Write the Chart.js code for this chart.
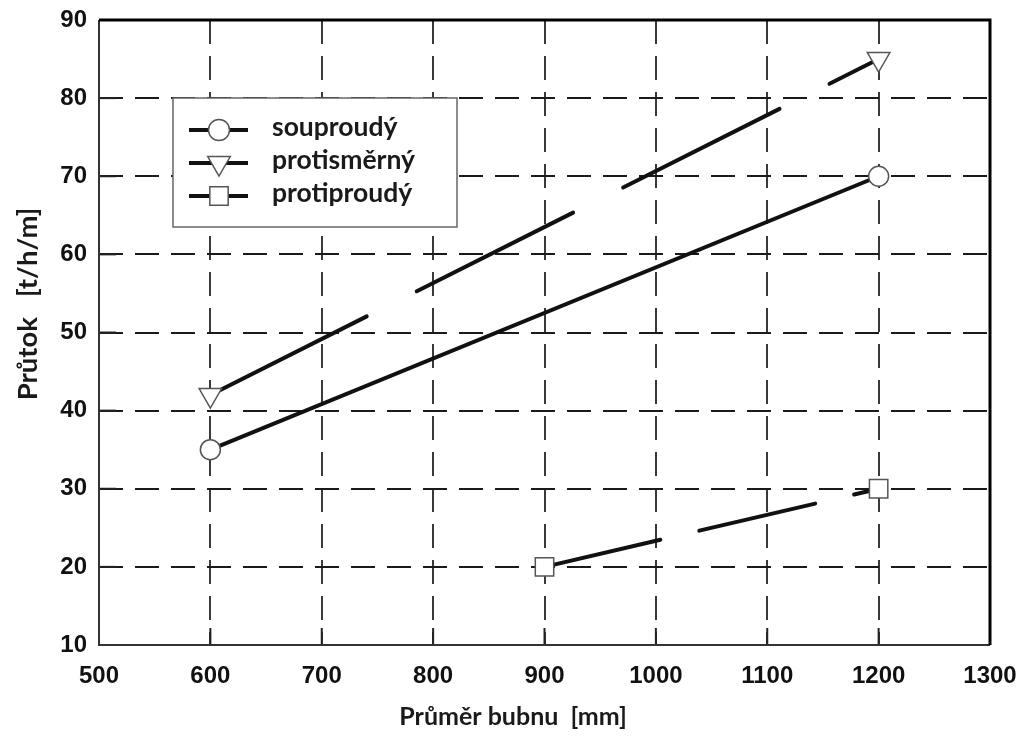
<!DOCTYPE html>
<html lang="cs">
<head>
    <meta charset="UTF-8">
    <title>Průtok vs. průměr bubnu</title>
    <script src="https://cdn.jsdelivr.net/npm/chart.js@4.4.0/dist/chart.umd.min.js"></script>
    <style>
        body { margin: 0; background: #fff; }
        #wrap { width: 1023px; height: 742px; }
    </style>
</head>
<body>
    <div id="wrap"><canvas id="chart" width="1023" height="742"></canvas></div>
    <script>
        // data
        const xTicks = [500, 600, 700, 800, 900, 1000, 1100, 1200, 1300];
        const yTicks = [10, 20, 30, 40, 50, 60, 70, 80, 90];
        const seriesNames = ['souproudý', 'protisměrný', 'protiproudý'];
        const souproudyX = [600, 1200];
        const souproudyY = [35, 70];
        const protismernyX = [600, 1200];
        const protismernyY = [42, 85];
        const protiproudyX = [900, 1200];
        const protiproudyY = [20, 30];

        const xTitle = 'Průměr bubnu  [mm]';
        const yTitle = 'Průtok   [t/h/m]';

        const toPoints = (xs, ys) => xs.map((x, i) => ({ x: x, y: ys[i] }));

        const markerBase = {
            pointBackgroundColor: '#fff',
            pointBorderColor: '#555',
            pointBorderWidth: 1.5,
            borderColor: '#111',
            borderWidth: 4,
            borderCapStyle: 'round',
            tension: 0
        };

        const datasets = [
            Object.assign({}, markerBase, {
                label: seriesNames[0],
                data: toPoints(souproudyX, souproudyY),
                pointStyle: 'circle',
                pointRadius: 10
            }),
            Object.assign({}, markerBase, {
                label: seriesNames[1],
                data: toPoints(protismernyX, protismernyY),
                pointStyle: 'triangle',
                pointRotation: 180,
                pointRadius: 13,
                borderDash: [175, 56]
            }),
            Object.assign({}, markerBase, {
                label: seriesNames[2],
                data: toPoints(protiproudyX, protiproudyY),
                pointStyle: 'rect',
                pointRadius: 13,
                borderDash: [119, 40]
            })
        ];

        const tickFont = { family: '"Liberation Sans", Arial, sans-serif', size: 24, weight: 'bold' };
        const titleFont = 'bold 25px Lato, "Open Sans", sans-serif';
        const yTitleFont = 'bold 27.5px Lato, "Open Sans", sans-serif';
        const legendFont = 'bold 26.5px Lato, "Open Sans", sans-serif';

        // frame, inward ticks, legend and axis titles
        const decor = {
            id: 'decor',
            afterDraw(chart) {
                const ctx = chart.ctx;
                const a = chart.chartArea;
                const xs = chart.scales.x, ys = chart.scales.y;
                ctx.save();
                ctx.strokeStyle = '#222';
                ctx.lineWidth = 2;
                yTicks.forEach(v => {
                    const p = ys.getPixelForValue(v);
                    ctx.beginPath(); ctx.moveTo(a.left, p); ctx.lineTo(a.left + 17, p); ctx.stroke();
                });
                xTicks.forEach(v => {
                    const p = xs.getPixelForValue(v);
                    ctx.beginPath(); ctx.moveTo(p, a.bottom); ctx.lineTo(p, a.bottom - 17); ctx.stroke();
                });
                // frame
                ctx.strokeStyle = '#333';
                ctx.lineWidth = 2;
                ctx.beginPath(); ctx.moveTo(a.left, a.top); ctx.lineTo(a.left, a.bottom); ctx.lineTo(a.right, a.bottom); ctx.stroke();
                ctx.strokeStyle = '#000';
                ctx.lineWidth = 3;
                ctx.beginPath(); ctx.moveTo(a.left, a.top); ctx.lineTo(a.right, a.top); ctx.lineTo(a.right, a.bottom); ctx.stroke();

                // legend box
                const bx = a.left + 74, by = a.top + 78, bw = 284, bh = 129;
                ctx.fillStyle = '#fff';
                ctx.fillRect(bx, by, bw, bh);
                ctx.strokeStyle = '#666';
                ctx.lineWidth = 1.5;
                ctx.strokeRect(bx, by, bw, bh);
                const rowY = [by + 32, by + 65, by + 98];
                chart.data.datasets.forEach((ds, i) => {
                    const y = rowY[i];
                    ctx.strokeStyle = '#111';
                    ctx.lineWidth = 4;
                    ctx.setLineDash([]);
                    ctx.beginPath(); ctx.moveTo(bx + 16, y); ctx.lineTo(bx + 75, y); ctx.stroke();
                    ctx.fillStyle = '#fff';
                    ctx.strokeStyle = '#555';
                    ctx.lineWidth = 1.5;
                    Chart.helpers.drawPoint(ctx, {
                        pointStyle: ds.pointStyle,
                        radius: ds.pointStyle === 'circle' ? 10.5 : 13,
                        rotation: ds.pointRotation || 0,
                        borderWidth: 1.5
                    }, bx + 46, y);
                    ctx.fillStyle = '#1a1a1a';
                    ctx.font = legendFont;
                    ctx.textAlign = 'left';
                    ctx.textBaseline = 'middle';
                    ctx.fillText(ds.label, bx + 99, y - 3);
                });

                // axis titles
                ctx.fillStyle = '#1a1a1a';
                ctx.font = titleFont;
                ctx.textAlign = 'center';
                ctx.textBaseline = 'middle';
                ctx.fillText(xTitle, 513, 717);
                ctx.font = yTitleFont;
                ctx.translate(28, 304);
                ctx.rotate(-Math.PI / 2);
                ctx.fillText(yTitle, 0, 0);
                ctx.restore();
            }
        };

        new Chart(document.getElementById('chart'), {
            type: 'line',
            data: { datasets: datasets },
            options: {
                responsive: false,
                devicePixelRatio: 1,
                animation: false,
                layout: { padding: { left: 0, top: 20, right: 33, bottom: 0 } },
                plugins: { legend: { display: false }, tooltip: { enabled: false } },
                scales: {
                    x: {
                        type: 'linear',
                        min: 500, max: 1300,
                        afterFit: s => { s.height = 97; s.paddingLeft = 0; s.paddingRight = 0; },
                        afterBuildTicks: s => { s.ticks = xTicks.map(v => ({ value: v })); },
                        ticks: { font: tickFont, color: '#111', padding: 17, maxRotation: 0, callback: v => String(v) },
                        grid: {
                            drawTicks: false,
                            lineWidth: 2,
                            color: c => (c.tick && (c.tick.value === 500 || c.tick.value === 1300)) ? 'rgba(0,0,0,0)' : '#3a3a3a'
                        },
                        border: { display: false, dash: [24, 12] }
                    },
                    y: {
                        type: 'linear',
                        min: 10, max: 90,
                        afterFit: s => { s.width = 99; s.paddingTop = 0; s.paddingBottom = 0; },
                        afterBuildTicks: s => { s.ticks = yTicks.map(v => ({ value: v })); },
                        ticks: { font: tickFont, color: '#111', padding: 12, callback: v => String(v) },
                        grid: {
                            drawTicks: false,
                            lineWidth: 2,
                            color: c => (c.tick && (c.tick.value === 10 || c.tick.value === 90)) ? 'rgba(0,0,0,0)' : '#1a1a1a'
                        },
                        border: { display: false, dash: [24, 12] }
                    }
                }
            },
            plugins: [decor]
        });
    </script>
</body>
</html>
